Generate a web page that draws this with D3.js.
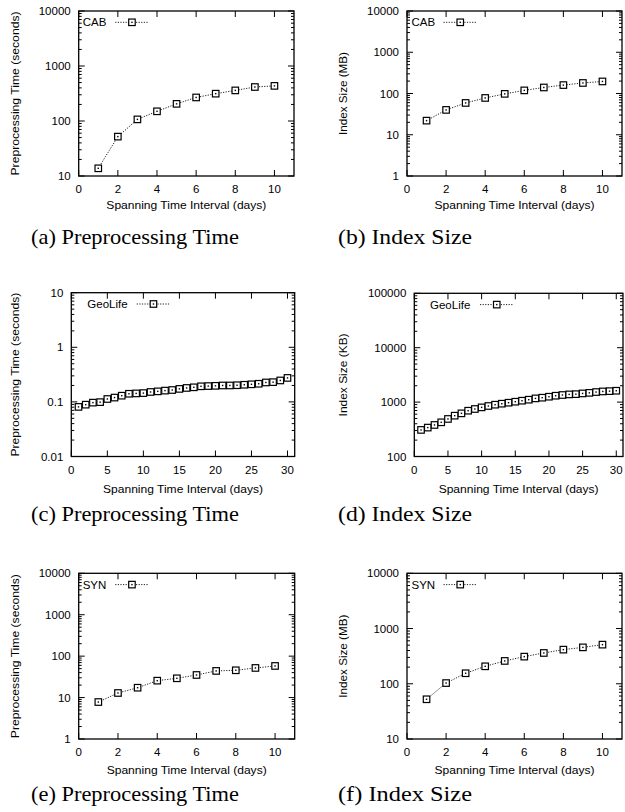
<!DOCTYPE html>
<html><head><meta charset="utf-8">
<script src="https://cdn.jsdelivr.net/npm/d3@7"></script>
<style>
html,body{margin:0;padding:0;background:#fff;}
svg{display:block;}
</style></head>
<body>
<script>
// ---------- data ----------
const days10 = [1,2,3,4,5,6,7,8,9,10];
const days30 = [1,2,3,4,5,6,7,8,9,10,11,12,13,14,15,16,17,18,19,20,21,22,23,24,25,26,27,28,29,30];

const cabTime = [13.8, 52, 107, 150, 205, 268, 314, 360, 415, 435];
const cabSize = [22, 40, 59, 78, 98, 119, 140, 160, 180, 196];
const geoTime = [0.081, 0.089, 0.097, 0.099, 0.113, 0.120, 0.130, 0.141, 0.143, 0.145,
                 0.152, 0.156, 0.161, 0.165, 0.173, 0.180, 0.185, 0.193, 0.195, 0.197,
                 0.200, 0.200, 0.202, 0.206, 0.210, 0.215, 0.227, 0.230, 0.247, 0.275];
const geoSize = [308, 340, 380, 425, 490, 563, 621, 695, 747, 800,
                 848, 896, 935, 975, 1017, 1061, 1107, 1170, 1205, 1256,
                 1310, 1350, 1385, 1400, 1443, 1480, 1530, 1570, 1590, 1618];
const synTime = [7.8, 12.9, 17.3, 25.6, 29.2, 35.1, 44, 45.6, 51.9, 58];
const synSize = [52.4, 103, 155, 207, 259, 310, 361, 415, 456, 511];

const xTicks10 = [0,2,4,6,8,10];
const xTicks30 = [0,5,10,15,20,25,30];
const yTicksA = [10,100,1000,10000];
const yTicksB = [1,10,100,1000,10000];
const yTicksC = [0.01,0.1,1,10];
const yTicksD = [100,1000,10000,100000];
const yTicksE = [1,10,100,1000,10000];
const yTicksF = [10,100,1000,10000];

const xTitle = "Spanning Time Interval (days)";
const captions = ["(a) Preprocessing Time","(b) Index Size","(c) Preprocessing Time","(d) Index Size","(e) Preprocessing Time","(f) Index Size"];

// ---------- layout ----------
const W = 625, H = 812;
const svg = d3.select("body").append("svg").attr("width", W).attr("height", H)
  .style("background","#fff");

const panels = [
  {x:days10, y:cabTime, xd:[0,11], xt:xTicks10, yt:yTicksA, yl:"Preprocessing Time (seconds)", ylW:164, leg:"CAB",
   L:78.7, R:294, T:11, B:176, ylx:15, tlOff:13, xlOff:29, capX:135, capY:243.5, capW:208, legText:4, legLine:36.5},
  {x:days10, y:cabSize, xd:[0,11], xt:xTicks10, yt:yTicksB, yl:"Index Size (MB)", ylW:83, leg:"CAB",
   L:407, R:622, T:11, B:176, ylx:343, tlOff:13, xlOff:29, capX:405, capY:243.5, capW:134, legText:4.5, legLine:36.5},
  {x:days30, y:geoTime, xd:[0,31], xt:xTicks30, yt:yTicksC, yl:"Preprocessing Time (seconds)", ylW:164, leg:"GeoLife",
   L:71.3, R:294.7, T:292.7, B:456.5, ylx:15, tlOff:13, xlOff:33, capX:135, capY:521, capW:208, legText:16, legLine:65.4},
  {x:days30, y:geoSize, xd:[0,31], xt:xTicks30, yt:yTicksD, yl:"Index Size (KB)", ylW:83, leg:"GeoLife",
   L:414.3, R:623, T:293.3, B:456.5, ylx:343, tlOff:13, xlOff:33, capX:405, capY:521, capW:134, legText:15.7, legLine:65.7},
  {x:days10, y:synTime, xd:[0,11], xt:xTicks10, yt:yTicksE, yl:"Preprocessing Time (seconds)", ylW:164, leg:"SYN",
   L:78.7, R:294.7, T:573.3, B:739, ylx:15, tlOff:12.7, xlOff:31, capX:135, capY:801, capW:208, legText:4, legLine:36.5},
  {x:days10, y:synSize, xd:[0,11], xt:xTicks10, yt:yTicksF, yl:"Index Size (MB)", ylW:83, leg:"SYN",
   L:407, R:622, T:573.3, B:739, ylx:343, tlOff:12.7, xlOff:31, capX:405, capY:801, capW:134, legText:4.5, legLine:36.5},
];

const sans = '"Liberation Sans", "Arial", sans-serif';
const serif = '"Liberation Serif", "Times New Roman", serif';

function txt(sel, family, size) {
  return sel.style("font-family", family).style("font-size", size + "px").attr("fill", "#000");
}

panels.forEach((p, i) => {
  const g = svg.append("g");
  const x = d3.scaleLinear().domain(p.xd).range([p.L, p.R]);
  const y = d3.scaleLog().domain([p.yt[0], p.yt[p.yt.length-1]]).range([p.B, p.T]);

  // minor log ticks
  const minors = [];
  for (let k = 0; k < p.yt.length - 1; k++) {
    for (let m = 2; m <= 9; m++) minors.push(p.yt[k] * m);
  }
  const ax = g.append("g").attr("stroke","#000").attr("stroke-width",1).attr("fill","none");
  minors.forEach(v => {
    const yy = y(v);
    ax.append("line").attr("x1",p.L).attr("x2",p.L+3).attr("y1",yy).attr("y2",yy);
    ax.append("line").attr("x1",p.R).attr("x2",p.R-3).attr("y1",yy).attr("y2",yy);
  });
  p.yt.forEach(v => {
    const yy = y(v);
    ax.append("line").attr("x1",p.L).attr("x2",p.L+6).attr("y1",yy).attr("y2",yy);
    ax.append("line").attr("x1",p.R).attr("x2",p.R-6).attr("y1",yy).attr("y2",yy);
  });
  p.xt.forEach(v => {
    const xx = x(v);
    ax.append("line").attr("x1",xx).attr("x2",xx).attr("y1",p.B).attr("y2",p.B-6);
    ax.append("line").attr("x1",xx).attr("x2",xx).attr("y1",p.T).attr("y2",p.T+6);
  });
  ax.append("rect").attr("x",p.L).attr("y",p.T).attr("width",p.R-p.L).attr("height",p.B-p.T)
    .attr("stroke-width",1.3);

  // tick labels
  const fmt = v => (v < 1 ? String(v) : d3.format("d")(v));
  p.yt.forEach(v => {
    txt(g.append("text").attr("x",p.L-8).attr("y",y(v)).attr("dy","0.35em")
      .attr("text-anchor","end"), sans, 11.5).text(fmt(v));
  });
  p.xt.forEach(v => {
    txt(g.append("text").attr("x",x(v)).attr("y",p.B+p.tlOff).attr("dy","0.35em")
      .attr("text-anchor","middle"), sans, 11.5).text(v);
  });

  // axis titles
  txt(g.append("text").attr("x",(p.L+p.R)/2).attr("y",p.B+p.xlOff).attr("dy","0.35em")
    .attr("text-anchor","middle"), sans, 11)
    .attr("textLength",160).attr("lengthAdjust","spacingAndGlyphs")
    .text(xTitle);
  txt(g.append("text").attr("transform",`translate(${p.ylx},${(p.T+p.B)/2}) rotate(-90)`).attr("dy","0.35em")
    .attr("text-anchor","middle"), sans, 11.5)
    .attr("textLength",p.ylW).attr("lengthAdjust","spacingAndGlyphs")
    .text(p.yl);

  // series
  const pts = p.x.map((d,j) => [d, p.y[j]]);
  const line = d3.line().x(d => x(d[0])).y(d => y(d[1]));
  g.append("path").attr("d", line(pts)).attr("fill","none").attr("stroke","#222")
    .attr("stroke-width",1).attr("stroke-dasharray","1.2,1.4");
  const s = 6.5;
  const mk = g.append("g");
  pts.forEach(d => {
    const cx = x(d[0]), cy = y(d[1]);
    mk.append("rect").attr("x",cx-s/2).attr("y",cy-s/2).attr("width",s).attr("height",s)
      .attr("fill","#fff").attr("stroke","#000").attr("stroke-width",1.2);
    mk.append("rect").attr("x",cx-0.7).attr("y",cy-0.7).attr("width",1.4).attr("height",1.4).attr("fill","#000");
  });

  // legend
  const ly = p.T + 11.3;
  txt(g.append("text").attr("x",p.L+p.legText).attr("y",ly).attr("dy","0.35em"), sans, 11.5).text(p.leg);
  const lx0 = p.L + p.legLine, lx1 = lx0 + 33.5;
  g.append("line").attr("x1",lx0).attr("x2",lx1).attr("y1",ly).attr("y2",ly)
    .attr("stroke","#222").attr("stroke-width",1).attr("stroke-dasharray","1.2,1.4");
  const lm = (lx0+lx1)/2;
  g.append("rect").attr("x",lm-s/2).attr("y",ly-s/2).attr("width",s).attr("height",s)
    .attr("fill","#fff").attr("stroke","#000").attr("stroke-width",1.2);
  g.append("rect").attr("x",lm-0.7).attr("y",ly-0.7).attr("width",1.4).attr("height",1.4).attr("fill","#000");

  // caption
  txt(g.append("text").attr("x",p.capX).attr("y",p.capY).attr("text-anchor","middle"), serif, 21)
    .attr("textLength",p.capW).attr("lengthAdjust","spacingAndGlyphs")
    .text(captions[i]);
});
</script>
</body></html>
